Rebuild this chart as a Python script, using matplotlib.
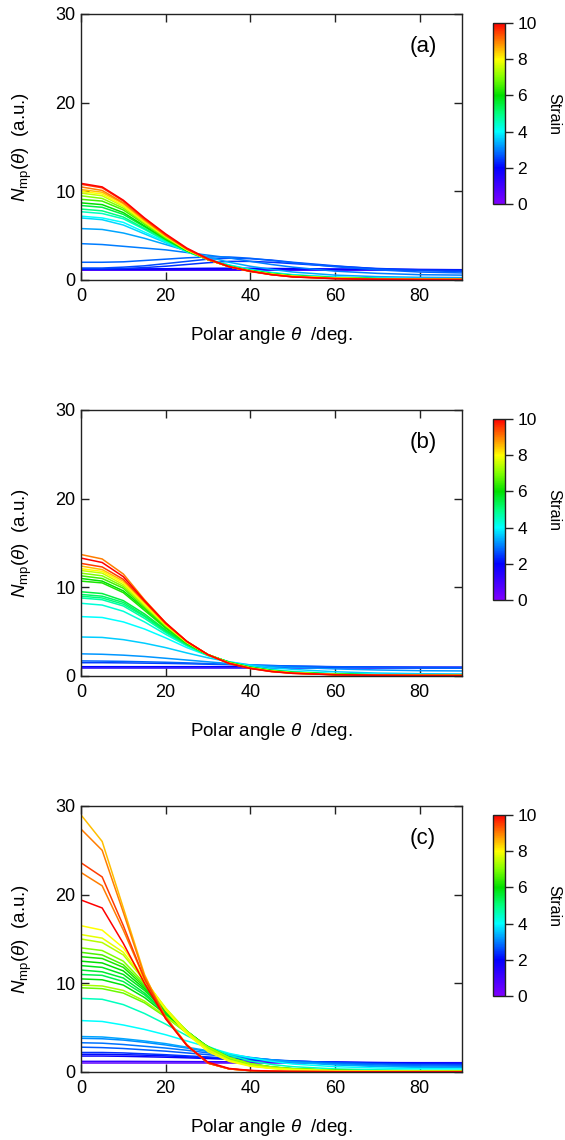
import matplotlib
matplotlib.use('Agg')
import matplotlib.pyplot as plt
import numpy as np
from matplotlib.colors import LinearSegmentedColormap, Normalize
from matplotlib.cm import ScalarMappable

plt.rcParams['font.family'] = ['Liberation Sans', 'DejaVu Sans']
plt.rcParams['mathtext.fontset'] = 'custom'
plt.rcParams['mathtext.rm'] = 'Liberation Sans'
plt.rcParams['mathtext.it'] = 'Liberation Sans:italic'

# polar angle grid (deg.)
theta = [0, 5, 10, 15, 20, 25, 30, 35, 40, 45, 50, 60, 70, 80, 90]

# panel (a): strain of each curve and N_mp values at theta
strain_a = [0.5, 1.0, 1.6, 2.0, 2.4, 2.6, 2.8, 3.0, 3.3, 3.7, 4.0, 4.5, 5.0, 5.5, 6.0,
            6.5, 7.0, 7.5, 8.0, 8.5, 9.0, 9.5, 10.0]
curves_a = [
    [1.08, 1.08, 1.08, 1.08, 1.08, 1.08, 1.08, 1.08, 1.08, 1.08, 1.08, 1.08, 1.08, 1.08, 1.08],
    [1.12, 1.12, 1.12, 1.12, 1.12, 1.12, 1.12, 1.12, 1.12, 1.12, 1.12, 1.12, 1.12, 1.12, 1.12],
    [1.2, 1.2, 1.2, 1.2, 1.2, 1.2, 1.2, 1.2, 1.2, 1.2, 1.2, 1.2, 1.2, 1.18, 1.16],
    [1.22, 1.22, 1.23, 1.25, 1.27, 1.3, 1.32, 1.33, 1.32, 1.3, 1.28, 1.24, 1.2, 1.17, 1.15],
    [1.25, 1.25, 1.3, 1.4, 1.55, 1.75, 1.95, 2.1, 2.1, 2.0, 1.85, 1.55, 1.3, 1.15, 1.1],
    [1.35, 1.35, 1.45, 1.6, 1.85, 2.1, 2.35, 2.45, 2.4, 2.25, 2.0, 1.6, 1.25, 1.05, 0.95],
    [2.0, 2.0, 2.05, 2.2, 2.35, 2.5, 2.6, 2.6, 2.45, 2.2, 1.95, 1.5, 1.15, 0.9, 0.8],
    [4.1, 4.0, 3.8, 3.6, 3.4, 3.1, 2.8, 2.5, 2.1, 1.75, 1.45, 1.0, 0.75, 0.6, 0.55],
    [5.8, 5.7, 5.3, 4.7, 4.0, 3.3, 2.6, 2.0, 1.55, 1.2, 0.9, 0.55, 0.38, 0.3, 0.27],
    [7.0, 6.8, 6.2, 5.2, 4.2, 3.2, 2.35, 1.7, 1.2, 0.85, 0.6, 0.33, 0.22, 0.17, 0.15],
    [7.2, 7.0, 6.5, 5.4, 4.3, 3.2, 2.3, 1.65, 1.15, 0.8, 0.55, 0.3, 0.2, 0.15, 0.13],
    [7.7, 7.5, 6.9, 5.7, 4.4, 3.2, 2.3, 1.6, 1.1, 0.78, 0.52, 0.28, 0.18, 0.13, 0.12],
    [8.0, 7.8, 7.1, 5.8, 4.5, 3.3, 2.3, 1.6, 1.1, 0.75, 0.5, 0.26, 0.16, 0.12, 0.1],
    [8.4, 8.2, 7.4, 6.0, 4.6, 3.3, 2.3, 1.55, 1.05, 0.72, 0.48, 0.24, 0.15, 0.11, 0.1],
    [8.7, 8.5, 7.6, 6.1, 4.6, 3.3, 2.3, 1.55, 1.05, 0.7, 0.47, 0.23, 0.14, 0.1, 0.09],
    [9.1, 8.9, 7.9, 6.3, 4.7, 3.4, 2.3, 1.5, 1.0, 0.67, 0.45, 0.22, 0.13, 0.1, 0.08],
    [9.5, 9.2, 8.1, 6.4, 4.8, 3.4, 2.3, 1.5, 1.0, 0.66, 0.43, 0.2, 0.12, 0.09, 0.08],
    [9.8, 9.5, 8.3, 6.5, 4.9, 3.4, 2.3, 1.5, 1.0, 0.65, 0.42, 0.2, 0.12, 0.08, 0.07],
    [10.0, 9.7, 8.4, 6.6, 4.9, 3.4, 2.3, 1.5, 1.0, 0.65, 0.42, 0.2, 0.12, 0.08, 0.07],
    [10.2, 9.9, 8.6, 6.7, 5.0, 3.5, 2.3, 1.5, 1.0, 0.62, 0.4, 0.18, 0.1, 0.07, 0.06],
    [10.5, 10.1, 8.7, 6.8, 5.0, 3.5, 2.3, 1.5, 1.0, 0.6, 0.38, 0.17, 0.1, 0.07, 0.06],
    [10.8, 10.4, 8.9, 6.9, 5.1, 3.5, 2.3, 1.5, 0.95, 0.6, 0.35, 0.15, 0.08, 0.06, 0.05],
    [10.9, 10.5, 9.0, 7.0, 5.2, 3.6, 2.4, 1.5, 1.0, 0.6, 0.35, 0.15, 0.08, 0.05, 0.05],
]

# panel (b)
strain_b = [1.5, 2.0, 2.5, 2.8, 3.2, 3.6, 4.0, 4.3, 4.7, 5.0, 5.2, 5.5, 6.2, 6.0,
            6.5, 7.0, 7.5, 8.0, 8.5, 9.5, 10.0, 9.0]
curves_b = [
    [0.92, 0.92, 0.92, 0.92, 0.92, 0.92, 0.92, 0.92, 0.92, 0.92, 0.92, 0.92, 0.92, 0.92, 0.92],
    [1.05, 1.05, 1.05, 1.05, 1.05, 1.05, 1.05, 1.05, 1.05, 1.04, 1.03, 1.02, 1.01, 1.0, 1.0],
    [1.5, 1.5, 1.48, 1.45, 1.42, 1.38, 1.33, 1.28, 1.22, 1.17, 1.12, 1.05, 1.0, 0.97, 0.95],
    [1.7, 1.68, 1.65, 1.6, 1.55, 1.48, 1.4, 1.32, 1.25, 1.18, 1.12, 1.02, 0.95, 0.9, 0.88],
    [2.5, 2.45, 2.35, 2.2, 2.0, 1.8, 1.6, 1.4, 1.25, 1.1, 0.98, 0.8, 0.68, 0.6, 0.57],
    [4.4, 4.35, 4.1, 3.7, 3.2, 2.6, 2.05, 1.6, 1.25, 0.95, 0.75, 0.48, 0.33, 0.26, 0.23],
    [6.7, 6.6, 6.1, 5.3, 4.3, 3.2, 2.3, 1.6, 1.1, 0.75, 0.52, 0.28, 0.18, 0.14, 0.12],
    [8.2, 8.0, 7.3, 6.1, 4.7, 3.4, 2.3, 1.55, 1.05, 0.68, 0.45, 0.23, 0.15, 0.11, 0.1],
    [8.8, 8.6, 7.9, 6.5, 4.9, 3.5, 2.35, 1.55, 1.0, 0.65, 0.43, 0.22, 0.14, 0.1, 0.09],
    [9.0, 8.8, 8.1, 6.7, 5.0, 3.5, 2.35, 1.55, 1.0, 0.64, 0.42, 0.21, 0.13, 0.1, 0.08],
    [9.2, 9.0, 8.3, 6.8, 5.1, 3.6, 2.4, 1.55, 1.0, 0.63, 0.41, 0.2, 0.13, 0.09, 0.08],
    [9.5, 9.3, 8.5, 7.0, 5.2, 3.6, 2.4, 1.55, 1.0, 0.62, 0.4, 0.2, 0.12, 0.09, 0.08],
    [10.7, 10.5, 9.4, 7.4, 5.4, 3.7, 2.4, 1.5, 0.95, 0.6, 0.38, 0.19, 0.12, 0.08, 0.07],
    [11.0, 10.7, 9.6, 7.6, 5.5, 3.7, 2.4, 1.5, 0.95, 0.58, 0.38, 0.18, 0.11, 0.08, 0.07],
    [11.3, 11.0, 9.9, 7.7, 5.6, 3.8, 2.4, 1.5, 0.93, 0.57, 0.37, 0.18, 0.11, 0.08, 0.07],
    [11.6, 11.3, 10.1, 7.9, 5.7, 3.8, 2.4, 1.5, 0.92, 0.56, 0.36, 0.17, 0.1, 0.07, 0.06],
    [11.9, 11.6, 10.3, 8.0, 5.7, 3.8, 2.4, 1.45, 0.9, 0.55, 0.35, 0.16, 0.1, 0.07, 0.06],
    [12.1, 11.8, 10.5, 8.1, 5.8, 3.8, 2.4, 1.45, 0.9, 0.55, 0.34, 0.16, 0.1, 0.07, 0.06],
    [12.4, 12.0, 10.7, 8.3, 5.9, 3.9, 2.4, 1.45, 0.9, 0.53, 0.33, 0.15, 0.09, 0.06, 0.05],
    [12.7, 12.3, 10.9, 8.4, 5.9, 3.9, 2.4, 1.45, 0.88, 0.52, 0.32, 0.15, 0.09, 0.06, 0.05],
    [13.3, 12.8, 11.2, 8.5, 6.0, 3.9, 2.4, 1.4, 0.85, 0.5, 0.3, 0.14, 0.08, 0.06, 0.05],
    [13.7, 13.2, 11.5, 8.6, 6.0, 3.9, 2.4, 1.4, 0.85, 0.5, 0.3, 0.14, 0.08, 0.06, 0.05],
]

# panel (c)
strain_c = [0.5, 1.2, 1.9, 2.1, 2.4, 2.7, 2.9, 3.1, 3.3, 4.0, 4.5, 5.4, 5.6, 5.8, 5.9,
            6.0, 6.2, 6.6, 6.8, 7.0, 7.3, 7.4, 7.8, 8.0, 10.0, 9.0, 9.5, 9.0, 8.5]
curves_c = [
    [1.0, 1.0, 1.0, 1.0, 1.0, 1.0, 1.0, 1.0, 1.0, 1.0, 1.0, 1.0, 1.0, 1.0, 1.0],
    [1.2, 1.2, 1.2, 1.19, 1.18, 1.17, 1.16, 1.15, 1.13, 1.12, 1.1, 1.08, 1.06, 1.05, 1.05],
    [1.8, 1.8, 1.77, 1.72, 1.67, 1.6, 1.52, 1.43, 1.35, 1.27, 1.2, 1.12, 1.06, 1.02, 1.0],
    [2.0, 2.0, 1.95, 1.9, 1.82, 1.72, 1.62, 1.5, 1.38, 1.28, 1.2, 1.1, 1.02, 0.97, 0.95],
    [2.2, 2.2, 2.15, 2.05, 1.95, 1.82, 1.7, 1.55, 1.42, 1.3, 1.22, 1.08, 0.98, 0.9, 0.88],
    [2.8, 2.75, 2.65, 2.5, 2.35, 2.15, 1.95, 1.75, 1.55, 1.38, 1.25, 1.05, 0.9, 0.8, 0.75],
    [3.3, 3.25, 3.1, 2.9, 2.7, 2.45, 2.15, 1.85, 1.6, 1.38, 1.2, 0.95, 0.8, 0.7, 0.65],
    [3.8, 3.75, 3.6, 3.35, 3.05, 2.7, 2.3, 1.95, 1.6, 1.35, 1.15, 0.85, 0.68, 0.58, 0.55],
    [4.0, 3.95, 3.75, 3.5, 3.2, 2.8, 2.4, 2.0, 1.65, 1.35, 1.1, 0.8, 0.62, 0.52, 0.48],
    [5.8, 5.7, 5.3, 4.8, 4.2, 3.5, 2.8, 2.1, 1.6, 1.2, 0.9, 0.6, 0.45, 0.38, 0.35],
    [8.3, 8.2, 7.6, 6.6, 5.4, 4.1, 2.9, 1.9, 1.25, 0.85, 0.6, 0.35, 0.25, 0.2, 0.18],
    [11.0, 10.9, 10.2, 8.7, 6.6, 4.5, 2.8, 1.6, 0.9, 0.56, 0.36, 0.18, 0.12, 0.09, 0.08],
    [11.5, 11.3, 10.6, 8.9, 6.7, 4.6, 2.8, 1.6, 0.88, 0.54, 0.35, 0.17, 0.11, 0.08, 0.07],
    [12.0, 11.8, 11.0, 9.2, 6.8, 4.6, 2.8, 1.55, 0.85, 0.52, 0.33, 0.16, 0.11, 0.08, 0.07],
    [10.5, 10.4, 9.8, 8.4, 6.5, 4.5, 2.85, 1.65, 0.92, 0.57, 0.37, 0.18, 0.12, 0.09, 0.08],
    [12.5, 12.3, 11.4, 9.4, 6.9, 4.6, 2.75, 1.5, 0.82, 0.5, 0.32, 0.16, 0.1, 0.08, 0.07],
    [13.0, 12.8, 11.8, 9.6, 6.9, 4.6, 2.7, 1.5, 0.8, 0.48, 0.31, 0.15, 0.1, 0.07, 0.06],
    [13.5, 13.2, 12.1, 9.8, 7.0, 4.6, 2.7, 1.45, 0.78, 0.47, 0.3, 0.15, 0.1, 0.07, 0.06],
    [9.5, 9.4, 8.9, 7.8, 6.2, 4.4, 2.8, 1.65, 0.95, 0.58, 0.37, 0.18, 0.12, 0.09, 0.08],
    [14.0, 13.7, 12.5, 10.0, 7.1, 4.6, 2.6, 1.4, 0.75, 0.45, 0.29, 0.14, 0.09, 0.07, 0.06],
    [9.8, 9.7, 9.2, 8.0, 6.3, 4.4, 2.8, 1.6, 0.9, 0.55, 0.35, 0.17, 0.11, 0.08, 0.07],
    [15.0, 14.6, 13.2, 10.3, 7.2, 4.6, 2.6, 1.35, 0.72, 0.43, 0.28, 0.14, 0.09, 0.06, 0.05],
    [15.5, 15.1, 13.5, 10.4, 7.2, 4.5, 2.5, 1.3, 0.7, 0.42, 0.27, 0.13, 0.08, 0.06, 0.05],
    [16.5, 16.0, 14.0, 10.5, 7.0, 4.3, 2.3, 1.2, 0.65, 0.4, 0.25, 0.12, 0.08, 0.06, 0.05],
    [19.4, 18.5, 14.5, 10.0, 6.0, 3.0, 1.1, 0.4, 0.18, 0.1, 0.06, 0.04, 0.03, 0.03, 0.03],
    [22.5, 21.0, 16.0, 10.5, 6.2, 3.1, 1.0, 0.35, 0.15, 0.08, 0.05, 0.03, 0.03, 0.03, 0.03],
    [23.6, 22.0, 16.5, 10.5, 6.1, 3.0, 1.0, 0.35, 0.15, 0.08, 0.05, 0.03, 0.03, 0.03, 0.03],
    [27.4, 25.0, 18.0, 10.8, 6.2, 3.0, 1.0, 0.35, 0.15, 0.08, 0.05, 0.03, 0.03, 0.03, 0.03],
    [29.0, 26.0, 18.5, 11.0, 6.0, 3.0, 1.0, 0.35, 0.15, 0.08, 0.05, 0.03, 0.03, 0.03, 0.03],
]

panel_tags = ['(a)', '(b)', '(c)']

# Igor-like rainbow: violet -> blue -> cyan -> green -> yellow -> red
cmap = LinearSegmentedColormap.from_list('strain', [
    (0.0, '#8000ff'), (0.1, '#4000ff'), (0.2, '#0000ff'), (0.3, '#0080ff'),
    (0.4, '#00ffff'), (0.5, '#00ff80'), (0.6, '#00e000'), (0.7, '#80ff00'),
    (0.8, '#ffff00'), (0.9, '#ff8000'), (1.0, '#ff0000')])
norm = Normalize(0, 10)

W, H = 565, 1140
fig = plt.figure(figsize=(W / 100, H / 100), dpi=100)

def fx(px):
    return px / W

def fy(px):
    return 1 - px / H

ax_tops = [14, 410, 806]
panels = [(strain_a, curves_a), (strain_b, curves_b), (strain_c, curves_c)]

for i, (strains, curves) in enumerate(panels):
    top = ax_tops[i]
    ax = fig.add_axes([fx(81), fy(top + 266), fx(462) - fx(81), 266 / H])
    order = np.argsort(strains, kind='stable')
    for k in order:
        ax.plot(theta, curves[k], color=cmap(norm(strains[k])), lw=1.1)
    ax.set_xlim(0, 90)
    ax.set_ylim(0, 30)
    ax.set_xticks([0, 20, 40, 60, 80])
    ax.set_yticks([0, 10, 20, 30])
    ax.tick_params(direction='in', top=True, right=True, length=6, width=1,
                   labelsize=13, color='#222222')
    ax.tick_params(axis='x', pad=6)
    ax.tick_params(axis='y', pad=4)
    for sp in ax.spines.values():
        sp.set_color('#222222')
        sp.set_linewidth(1)
    ax.set_xlabel(r'Polar angle $\theta$  /deg.', fontsize=13.5, labelpad=14)
    ax.set_ylabel(r'$N_{\mathrm{mp}}(\theta)$  (a.u.)', fontsize=13.5, labelpad=15)
    ax.text(0.898, 0.876, panel_tags[i], transform=ax.transAxes, fontsize=16,
            ha='center', va='center')

    # colour bar
    cax = fig.add_axes([fx(493), fy(top + 190), fx(505) - fx(493), 181 / H])
    cb = fig.colorbar(ScalarMappable(norm=norm, cmap=cmap), cax=cax)
    cb.set_ticks([0, 2, 4, 6, 8, 10])
    cb.ax.tick_params(direction='out', length=6, width=1, labelsize=12.5, pad=3,
                      color='#222222')
    cb.outline.set_edgecolor('#222222')
    cb.outline.set_linewidth(1)
    fig.text(fx(554), fy(top + 100), 'Strain', rotation=270, fontsize=11.5,
             ha='center', va='center')

fig.savefig('out.png', dpi=100)
